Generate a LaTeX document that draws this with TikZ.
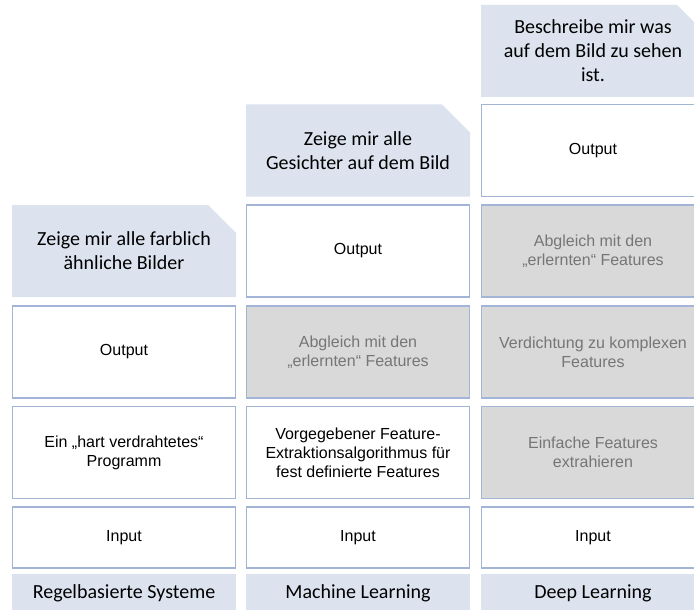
\documentclass[tikz,border=0pt]{standalone}
\usepackage{fontspec}
\newfontfamily\boxfont{Liberation Sans}
\newfontfamily\headfont{Carlito}
\usetikzlibrary{shapes.misc}
\definecolor{headblue}{HTML}{DCE3EF}
\definecolor{boxline}{HTML}{A3B5D6}
\definecolor{boxgray}{HTML}{D9D9D9}
\definecolor{txtgray}{HTML}{767676}
\tikzset{
  cell/.style={draw=boxline, fill=white, line width=1.2pt, minimum width=223pt, minimum height=92pt, inner sep=0pt, align=center, font=\boxfont\fontsize{16}{19}\selectfont},
  learnt/.style={cell, fill=boxgray, text=txtgray},
  inbox/.style={cell, minimum height=61pt},
  task/.style={chamfered rectangle, chamfered rectangle corners=north east, chamfered rectangle xsep=14pt, chamfered rectangle ysep=14pt, fill=headblue, minimum width=224pt, minimum height=92pt, inner sep=0pt, align=center, font=\headfont\fontsize{20}{24}\selectfont},
  method/.style={fill=headblue, minimum width=224pt, minimum height=38pt, inner sep=0pt, font=\headfont\fontsize{20}{24}\selectfont}
}
\begin{document}
\begin{tikzpicture}[x=1pt,y=-1pt]
\useasboundingbox (0,0) rectangle (694,610);
\clip (0,0) rectangle (694,610);
% Regelbasierte Systeme
\node[method] (rb) at (124,593) {Regelbasierte Systeme};
\node[inbox] (rbin) at (124,537.5) {Input};
\node[cell] (rbprog) at (124,452.5) {Ein „hart verdrahtetes“\\Programm};
\node[cell] (rbout) at (124,352) {Output};
\node[task] (rbtask) at (124,251) {Zeige mir alle farblich\\ähnliche Bilder};
% Machine Learning
\node[method] (ml) at (358,593) {Machine Learning};
\node[inbox] (mlin) at (358,537.5) {Input};
\node[cell] (mlext) at (358,452.5) {Vorgegebener Feature-\\Extraktionsalgorithmus für\\fest definierte Features};
\node[learnt] (mlcmp) at (358,352) {Abgleich mit den\\„erlernten“ Features};
\node[cell] (mlout) at (358,251) {Output};
\node[task] (mltask) at (358,150.5) {Zeige mir alle\\Gesichter auf dem Bild};
% Deep Learning
\node[method] (dl) at (593,593) {Deep Learning};
\node[inbox] (dlin) at (593,537.5) {Input};
\node[learnt] (dlsimple) at (593,452.5) {Einfache Features\\extrahieren};
\node[learnt] (dlcomplex) at (593,352) {Verdichtung zu komplexen\\Features};
\node[learnt] (dlcmp) at (593,251) {Abgleich mit den\\„erlernten“ Features};
\node[cell] (dlout) at (593,150.5) {Output};
\node[task] (dltask) at (593,51) {Beschreibe mir was\\auf dem Bild zu sehen\\ist.};
\end{tikzpicture}
\end{document}
